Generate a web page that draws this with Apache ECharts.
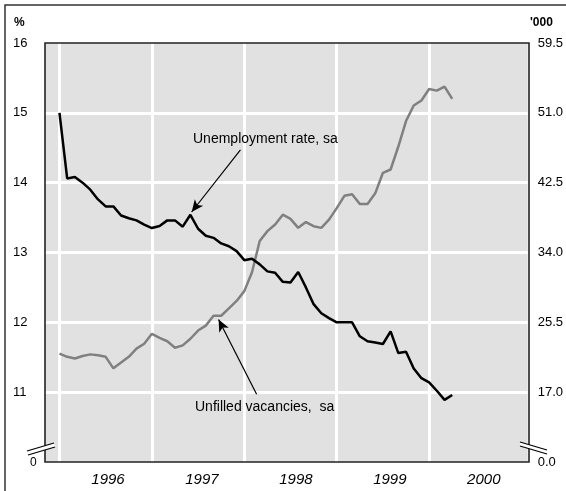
<!DOCTYPE html>
<html><head><meta charset="utf-8">
<script src="https://cdn.jsdelivr.net/npm/echarts@6/dist/echarts.min.js"></script>
<style>html,body{margin:0;padding:0;background:#fff}#c{width:566px;height:491px}</style>
</head><body><div id="c"></div>
<script>
const months = [
 '1996-01','1996-02','1996-03','1996-04','1996-05','1996-06','1996-07','1996-08','1996-09','1996-10','1996-11','1996-12',
 '1997-01','1997-02','1997-03','1997-04','1997-05','1997-06','1997-07','1997-08','1997-09','1997-10','1997-11','1997-12',
 '1998-01','1998-02','1998-03','1998-04','1998-05','1998-06','1998-07','1998-08','1998-09','1998-10','1998-11','1998-12',
 '1999-01','1999-02','1999-03','1999-04','1999-05','1999-06','1999-07','1999-08','1999-09','1999-10','1999-11','1999-12',
 '2000-01','2000-02','2000-03','2000-04'];
// Unemployment rate, sa (%)
const unemployment = [
 15.00,14.06,14.08,14.00,13.90,13.76,13.66,13.66,13.53,13.49,13.46,13.40,
 13.35,13.38,13.46,13.46,13.37,13.54,13.34,13.24,13.21,13.13,13.09,13.02,
 12.89,12.91,12.83,12.73,12.71,12.58,12.57,12.72,12.50,12.26,12.13,12.06,
 12.00,12.00,12.00,11.80,11.73,11.71,11.69,11.87,11.56,11.58,11.34,11.20,
 11.14,11.02,10.89,10.96];
// Unfilled vacancies, sa ('000)
const vacancies = [
 21.7,21.3,21.1,21.4,21.6,21.5,21.3,19.9,20.6,21.3,22.3,22.9,
 24.1,23.6,23.2,22.4,22.7,23.5,24.5,25.1,26.3,26.3,27.2,28.1,
 29.3,31.6,35.4,36.6,37.4,38.6,38.1,37.0,37.7,37.2,37.0,38.0,
 39.4,40.9,41.1,39.9,39.9,41.2,43.7,44.1,46.9,50.0,51.9,52.5,
 53.9,53.7,54.2,52.7];
const yearLabels = ['1996','1997','1998','1999','2000'];
const leftTickValues = [10,11,12,13,14,15,16];
const leftTickLabels = ['0','11','12','13','14','15','16'];
const rightTickValues = [8.5,17,25.5,34,42.5,51,59.5];
const rightTickLabels = ['0.0','17.0','25.5','34.0','42.5','51.0','59.5'];

const monthIndex = m => (parseInt(m.slice(0,4)) - 1996) * 12 + parseInt(m.slice(5,7)) - 1;
const yearStarts = yearLabels.map((y,i) => i * 12);
// year labels sit a little right of the mid-year point in the original
const yearLabelPos = yearLabels.map((y,i) => 6.3 + i * 12.2);
function lookup(vals, labels, v){
  for (let k = 0; k < vals.length; k++) if (Math.abs(vals[k]-v) < 1e-6) return labels[k];
  return '';
}
function yearLabelAt(v){
  for (let k = 0; k < yearLabelPos.length; k++) if (Math.abs(yearLabelPos[k]-v) < 1e-6) return yearLabels[k];
  return '';
}
const FONT = 'Liberation Sans';
const chart = echarts.init(document.getElementById('c'), null, {renderer:'canvas'});
chart.setOption({
  animation: false,
  textStyle: {fontFamily: FONT},
  grid: {left:45, right:37, top:43, bottom:29, show:true, backgroundColor:'#e1e1e1', borderWidth:0},
  xAxis: {
    type:'value', min:-1.88, max:60.8,
    axisLine:{show:false}, axisTick:{show:false}, splitLine:{show:false},
    axisLabel:{customValues: yearLabelPos, formatter: yearLabelAt,
      fontStyle:'italic', fontSize:15, color:'#000', margin:10, fontFamily: FONT}
  },
  yAxis: [{
    type:'value', min:10, max:16, interval:1, position:'left',
    axisLine:{show:false}, axisTick:{show:false},
    splitLine:{show:true, showMinLine:false, showMaxLine:false, lineStyle:{color:'#fff', width:3}},
    axisLabel:{align:'left', margin:32, fontSize:13, color:'#000', fontFamily: FONT,
      formatter: v => v === 10 ? '{z|' + lookup(leftTickValues,leftTickLabels,v) + '}' : lookup(leftTickValues,leftTickLabels,v),
      rich:{z:{fontSize:12, padding:[2,0,0,17], fontFamily: FONT, color:'#000'}}}
  },{
    type:'value', min:8.5, max:59.5, interval:8.5, position:'right',
    axisLine:{show:false}, axisTick:{show:false}, splitLine:{show:false},
    axisLabel:{align:'left', margin:10, fontSize:13, color:'#000', fontFamily: FONT,
      formatter: v => lookup(rightTickValues,rightTickLabels,v)}
  }],
  series: [{
    type:'line', z:1, silent:true, data:[], yAxisIndex:0,
    markLine:{z:1, silent:true, symbol:'none', label:{show:false},
      lineStyle:{color:'#fff', width:3, type:'solid'},
      data: yearStarts.map(v => ({xAxis:v}))}
  },{
    name:'Unfilled vacancies, sa', type:'line', yAxisIndex:1, z:3,
    data: months.map((m,i) => [monthIndex(m), vacancies[i]]),
    showSymbol:false, lineStyle:{color:'#808080', width:2.5}, itemStyle:{color:'#808080'}
  },{
    name:'Unemployment rate, sa', type:'line', yAxisIndex:0, z:4,
    data: months.map((m,i) => [monthIndex(m), unemployment[i]]),
    showSymbol:false, lineStyle:{color:'#000', width:2.5}, itemStyle:{color:'#000'},
    markLine:{z:5, silent:true, symbol:['none','arrow'], symbolSize:[8,12], label:{show:false},
      lineStyle:{color:'#000', width:1.2, type:'solid'},
      data:[
        [{coord:[23.5,14.47]},{coord:[17.16,13.58]}],
        [{coord:[25.6,10.97]},{coord:[20.66,12.04]}]
      ]}
  }],
  graphic: [
    {type:'rect', z:100, silent:true, shape:{x:5,y:5,width:620,height:620}, style:{fill:null, stroke:'#333', lineWidth:1.5}},
    {type:'rect', z:100, silent:true, shape:{x:45,y:43,width:484,height:419}, style:{fill:null, stroke:'#222', lineWidth:1.6}},
    // axis break, left
    {type:'polygon', z:101, silent:true, shape:{points:[[27,451],[54,443],[55,447],[28,455]]}, style:{fill:'#fff'}},
    {type:'line', z:102, silent:true, shape:{x1:27,y1:451,x2:54,y2:443}, style:{stroke:'#000', lineWidth:1.2}},
    {type:'line', z:102, silent:true, shape:{x1:28,y1:455,x2:55,y2:447}, style:{stroke:'#000', lineWidth:1.2}},
    // axis break, right
    {type:'polygon', z:101, silent:true, shape:{points:[[520,442],[547,450],[547,454],[520,446]]}, style:{fill:'#fff'}},
    {type:'line', z:102, silent:true, shape:{x1:520,y1:442,x2:547,y2:450}, style:{stroke:'#000', lineWidth:1.2}},
    {type:'line', z:102, silent:true, shape:{x1:520,y1:446,x2:547,y2:454}, style:{stroke:'#000', lineWidth:1.2}},
    {type:'text', z:103, left:14, top:17, style:{text:'%', font:'bold 12px "Liberation Sans"', fill:'#000'}},
    {type:'text', z:103, left:530, top:17, style:{text:"'000", font:'bold 12px "Liberation Sans"', fill:'#000'}},
    {type:'text', z:103, left:193, top:132, style:{text:'Unemployment rate, sa', font:'14px "Liberation Sans"', fill:'#000'}},
    {type:'text', z:103, left:195, top:400, style:{text:'Unfilled vacancies,  sa', font:'14px "Liberation Sans"', fill:'#000'}}
  ]
});
</script></body></html>
